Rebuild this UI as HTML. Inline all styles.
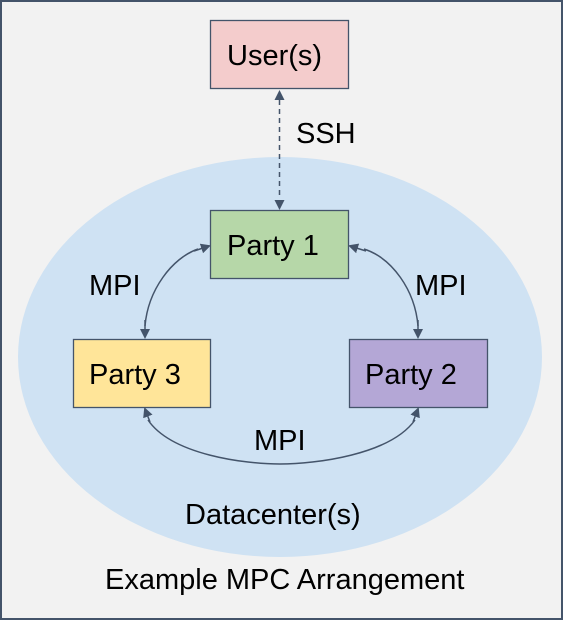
<!DOCTYPE html>
<html><head><style>body{margin:0;background:#fff}svg{display:block}</style></head><body>
<svg width="564" height="621" xmlns="http://www.w3.org/2000/svg" font-family="Liberation Sans, Arial, sans-serif" font-size="29" fill="#000">
<defs><marker id="a" markerWidth="10" markerHeight="10" refX="8" refY="5" orient="auto" markerUnits="userSpaceOnUse"><path d="M0,0 L10,5 L0,10 Z" fill="#44546a"/></marker></defs>
<rect x="1" y="1" width="561" height="618" fill="#f2f2f2" stroke="#44546a" stroke-width="2"/>
<ellipse cx="280" cy="357" rx="262" ry="200" fill="#cfe2f3"/>
<rect x="210.5" y="20.5" width="138" height="68" fill="#f4cccc" stroke="#44546a" stroke-width="1.3"/>
<rect x="210.5" y="210.5" width="138" height="68" fill="#b6d7a8" stroke="#44546a" stroke-width="1.3"/>
<rect x="73.5" y="339.5" width="137" height="68" fill="#ffe599" stroke="#44546a" stroke-width="1.3"/>
<rect x="349.5" y="339.5" width="138" height="68" fill="#b4a7d6" stroke="#44546a" stroke-width="1.3"/>
<g stroke="#44546a" stroke-width="1.5" fill="none">
<line x1="279.5" y1="100" x2="279.5" y2="198" stroke-dasharray="5,4"/>
<path d="M279.5,98 L279.5,92" marker-end="url(#a)"/>
<path d="M279.5,200 L279.5,208" marker-end="url(#a)"/>
<path d="M145,326 C148,290 172,258 198,249" />
<path d="M194,251 L209,246" marker-end="url(#a)"/>
<path d="M145,320 L145,337" marker-end="url(#a)"/>
<path d="M418,326 C415,290 392,258 364,249" />
<path d="M366,251 L350,246" marker-end="url(#a)"/>
<path d="M418,320 L418,337" marker-end="url(#a)"/>
<path d="M148,420 C172,455 245,464 280,464 C315,464 390,455 415,420"/>
<path d="M150,422 L145,409" marker-end="url(#a)"/>
<path d="M413,422 L418,409" marker-end="url(#a)"/>
</g>
<text x="227" y="65">User(s)</text>
<text x="296" y="143">SSH</text>
<text x="227" y="255">Party 1</text>
<text x="89" y="295">MPI</text>
<text x="415" y="295">MPI</text>
<text x="89" y="384">Party 3</text>
<text x="365" y="384">Party 2</text>
<text x="254" y="450">MPI</text>
<text x="185" y="524">Datacenter(s)</text>
<text x="105" y="589">Example MPC Arrangement</text>
</svg>
</body></html>
